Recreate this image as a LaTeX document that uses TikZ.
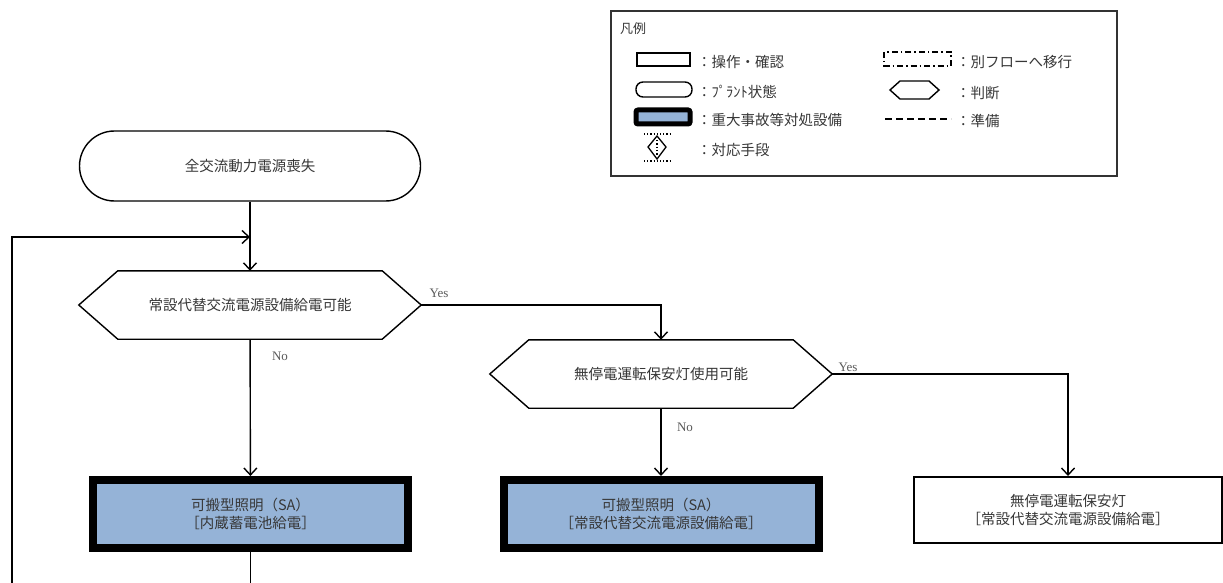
\documentclass[tikz,border=0pt]{standalone}
\usepackage{fontspec}
\setmainfont{Liberation Serif}
\newfontfamily\jpfont{Noto Sans CJK JP}
\usetikzlibrary{arrows.meta,shapes.misc}
\definecolor{safill}{RGB}{149,179,215}
\definecolor{txt}{RGB}{55,55,55}
\definecolor{lbl}{RGB}{90,90,90}

% outline of a decision hexagon drawn round a rectangular node
\newcommand{\hexoutline}[3][1.4pt]{%
  \draw[line width=#1] (#2.west) -- ([xshift=#3]#2.north west) -- ([xshift=-#3]#2.north east)
    -- (#2.east) -- ([xshift=-#3]#2.south east) -- ([xshift=#3]#2.south west) -- cycle;}

\tikzset{
  conn/.style={draw=black, line width=1.4pt},
  arr/.style={conn, -{Straight Barb[length=7pt,width=13pt]}},
  jtext/.style={font=\jpfont\fontsize{14.5}{18}\selectfont, text=txt, align=center},
  legtext/.style={font=\jpfont\fontsize{14.5}{16}\selectfont, text=txt, anchor=west, inner sep=0pt},
  terminal/.style={jtext, draw=black, line width=1.4pt, rounded corners=35pt,
    minimum width=341pt, minimum height=70pt},
  decision/.style={jtext, minimum width=342pt, minimum height=68pt, inner sep=0pt},
  sabox/.style={jtext, draw=black, line width=8pt, fill=safill, inner sep=0pt,
    outer sep=4pt, minimum width=315pt, minimum height=68pt},
  opbox/.style={jtext, draw=black, line width=2pt, fill=white, inner sep=0pt,
    outer sep=1pt, minimum width=308pt, minimum height=66pt},
  yesno/.style={font=\fontsize{13}{15}\selectfont, text=lbl, inner sep=0pt}
}

\begin{document}
\begin{tikzpicture}[x=1pt,y=-1pt]
\useasboundingbox (0,0) rectangle (1223,583);
\fill[white] (0,0) rectangle (1223,583);

% ---------- flow ----------
\node[terminal] (start) at (250,166) {全交流動力電源喪失};

\node[decision] (d1) at (250,305) {常設代替交流電源設備給電可能};
\hexoutline{d1}{39pt}

\node[decision] (d2) at (661,374) {無停電運転保安灯使用可能};
\hexoutline{d2}{39pt}

\node[sabox] (b1) at (250.5,514) {可搬型照明（SA）\\［内蔵蓄電池給電］};
\node[sabox] (b2) at (661,514) {可搬型照明（SA）\\［常設代替交流電源設備給電］};
\node[opbox] (b3) at (1068,510) {無停電運転保安灯\\［常設代替交流電源設備給電］};

\coordinate (loopB) at (12,583);
\coordinate (loopT) at (12,237);
\coordinate (merge) at (250,237);
\coordinate (b1out) at (250.5,583);

\draw[arr] (start) -- (d1);
\draw[arr] (loopB) -- (loopT) -- (merge);
\draw[arr] (d1.east) -| (d2.north);
\draw[arr] (d1) -- (b1);
\draw[arr] (d2) -- (b2);
\draw[arr] (d2.east) -| (b3.north);
\draw[conn] (b1) -- (b1out);

\node[yesno] (y1) at (439,293) {Yes};
\node[yesno] (n1) at (280,356) {No};
\node[yesno] (y2) at (848,367) {Yes};
\node[yesno] (n2) at (685,427) {No};

% ---------- legend ----------
\draw[line width=1.5pt, draw=black!80] (611,11) rectangle (1117,176);
\node[legtext, font=\jpfont\fontsize{13}{15}\selectfont] (lt) at (620,29) {凡例};

% operation / check
\draw[line width=1.2pt] (637,53) rectangle (690,66);
\node[legtext] (l1) at (697,62) {：操作・確認};
% plant state
\draw[line width=1.4pt, rounded corners=7pt] (636,82) rectangle (692,97);
\node[legtext] (l2) at (697,92) {：ﾌﾟﾗﾝﾄ状態};
% severe accident equipment
\draw[line width=5pt, fill=safill, rounded corners=2pt] (636,110) rectangle (690,124);
\node[legtext] (l3) at (697,120) {：重大事故等対処設備};
% response means
\draw[dotted, line width=1.2pt] (644,134) -- (670,134);
\draw[dotted, line width=1.2pt] (644,161) -- (670,161);
\draw[line width=1.3pt] (657,136) -- (648,147) -- (657,159) -- (666,147) -- cycle;
\draw[dotted, line width=1.3pt] (657,140) -- (657,155);
\node[legtext] (l4) at (697,150) {：対応手段};

% move to another flow
\draw[line width=1.2pt, dash pattern=on 6pt off 3pt on 1.5pt off 3pt] (884,52) rectangle (951,66);
\node[legtext] (r1) at (956,62) {：別フローへ移行};
% judgement
\draw[line width=1.4pt] (890,90) -- (900,81) -- (929,81) -- (939,90) -- (929,99) -- (900,99) -- cycle;
\node[legtext] (r2) at (956,93) {：判断};
% preparation
\draw[line width=2pt, dash pattern=on 7pt off 4pt] (885,119) -- (951,119);
\node[legtext] (r3) at (956,121) {：準備};
\end{tikzpicture}
\end{document}
